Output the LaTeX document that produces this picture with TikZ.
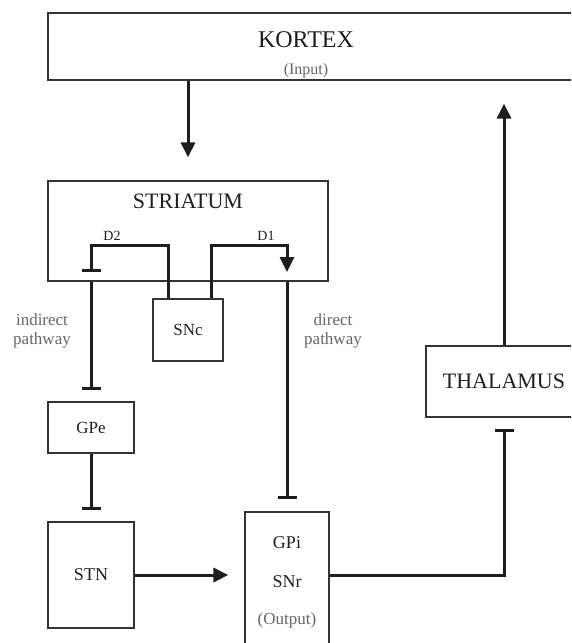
\documentclass[tikz,border=0pt]{standalone}
\usepackage{fontspec}
\setmainfont{Liberation Serif}
\usepackage{tikz}
\usetikzlibrary{arrows.meta,positioning,calc}
\definecolor{ink}{HTML}{1E1E1E}
\definecolor{frame}{HTML}{333333}
\definecolor{note}{HTML}{666666}
\newcommand{\fs}[1]{\fontsize{#1}{#1}\selectfont}

\begin{document}
\begin{tikzpicture}[x=1pt,y=-1pt,
    box/.style={draw=frame,line width=1.2pt,rectangle,inner sep=0pt,text=ink},
    excite/.style={draw=ink,line width=3pt,-{Triangle[length=15pt,width=14pt]}},
    inhib/.style={draw=ink,line width=3pt,-{Bar[width=19pt]}},
    plain/.style={draw=ink,line width=3pt},
    lab/.style={text=note,align=center,font=\fs{16}}]
  \useasboundingbox (0,0) rectangle (571,643);
  \clip (0,0) rectangle (571,643);
  % boxes
  \node[box,minimum width=534pt,minimum height=67pt] (kortex) at (315,46.5) {};
  \node[text=ink,font=\fs{24}] (kortexname) at (306,40) {KORTEX};
  \node[lab] (input) at (306,71) {(Input)};
  \node[box,minimum width=280pt,minimum height=100pt] (striatum) at (188,231) {};
  \node[text=ink,font=\fs{22}] (striatumname) at (188,201) {STRIATUM};
  \node[box,minimum width=70pt,minimum height=62pt,font=\fs{17}] (snc) at (188,330) {SNc};
  \node[box,minimum width=86pt,minimum height=51pt,font=\fs{17}] (gpe) at (91,427.5) {GPe};
  \node[box,minimum width=86pt,minimum height=106pt,font=\fs{18}] (stn) at (91,575) {STN};
  \node[box,minimum width=84pt,minimum height=136pt] (gpi) at (287,580) {};
  \node[text=ink,font=\fs{18}] (gpiname) at (287,543) {GPi};
  \node[text=ink,font=\fs{18}] (snrname) at (287,582) {SNr};
  \node[lab,font=\fs{17}] (output) at (287,620) {(Output)};
  \node[box,minimum width=156pt,minimum height=71pt,font=\fs{22}] (thal) at (504,381.5) {THALAMUS};
  % labels
  \node[lab,font=\fs{17}] (indirect) at (42,331) {indirect\\[2pt]pathway};
  \node[lab,font=\fs{17}] (direct) at (333,331) {direct\\[2pt]pathway};
  % dopamine loops
  \coordinate (d2top) at (91,245);
  \coordinate (d2end) at (91,272);
  \coordinate (d1top) at (287,245);
  \coordinate (d1end) at (287,272);
  \node[text=ink,font=\fs{14},above=1pt of d2top,xshift=21pt] (d2) {D2};
  \node[text=ink,font=\fs{14},above=1pt of d1top,xshift=-21pt] (d1) {D1};
  \draw[inhib] ([xshift=-20pt]snc.north) |- (d2top) -- (d2end);
  \draw[excite] ([xshift=23pt]snc.north) |- (d1top) -- (d1end);
  % pathways
  \draw[excite,shorten >=23pt] (striatum.north |- kortex.south) -- (striatum.north);
  \draw[inhib,shorten >=11pt] (d2end |- striatum.south) -- (gpe.north);
  \draw[inhib,shorten >=11pt] (gpe.south) -- (stn.north);
  \draw[inhib,shorten >=12pt] (d1end |- striatum.south) -- (gpi.north);
  \draw[excite,shorten >=16pt] (stn.east) -- (gpi.west |- stn.east);
  \draw[inhib,shorten >=11pt] (gpi.east |- stn.east) -| (thal.south);
  \draw[excite,shorten >=23pt] (thal.north) -- (thal.north |- kortex.south);
\end{tikzpicture}
\end{document}
